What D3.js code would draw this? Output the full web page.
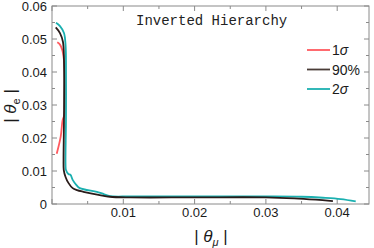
<!DOCTYPE html>
<html><head><meta charset="utf-8">
<script src="https://cdn.jsdelivr.net/npm/d3@7"></script>
<style>html,body{margin:0;padding:0;background:#fff;}svg{display:block;}</style>
</head><body>
<script>
const title = "Inverted Hierarchy";
const seriesNames = ["1\u03c3", "90%", "2\u03c3"];
const seriesColors = ["#ff5a5f", "#2a1c1a", "#1bb0b0"];
const xTicks = [0.01, 0.02, 0.03, 0.04];
const yTicks = [0, 0.01, 0.02, 0.03, 0.04, 0.05, 0.06];
const yTickLabels = ["0", "0.01", "0.02", "0.03", "0.04", "0.05", "0.06"];

// 1 sigma
const redX = [0.00074, 0.00112, 0.00144, 0.00168, 0.00182, 0.00185, 0.00175, 0.0015, 0.00122, 0.00066];
const redY = [0.0490, 0.0483, 0.0467, 0.0436, 0.0376, 0.0315, 0.0270, 0.0255, 0.0204, 0.0152];
// 90%
const blackX = [0.00052, 0.00112, 0.00154, 0.00168, 0.00168, 0.00162, 0.00165, 0.0019, 0.0023, 0.0029, 0.0035, 0.0044, 0.0067, 0.0081, 0.011, 0.02, 0.03, 0.034, 0.037, 0.0394];
const blackY = [0.0535, 0.0518, 0.0491, 0.0436, 0.0255, 0.0133, 0.0103, 0.0082, 0.0064, 0.0048, 0.0042, 0.0037, 0.0027, 0.0022, 0.0020, 0.0020, 0.0020, 0.0017, 0.0013, 0.0009];
// 2 sigma
const tealX = [0.00056, 0.00112, 0.00168, 0.0019, 0.00196, 0.00196, 0.0019, 0.00196, 0.0023, 0.0026, 0.0029, 0.0034, 0.0039, 0.0063, 0.0070, 0.0081, 0.011, 0.02, 0.03, 0.035, 0.038, 0.0405, 0.0426];
const tealY = [0.0549, 0.0539, 0.0518, 0.0482, 0.0436, 0.0255, 0.0118, 0.0103, 0.0091, 0.0088, 0.0073, 0.0058, 0.0048, 0.0037, 0.0032, 0.0024, 0.0023, 0.0023, 0.0023, 0.0022, 0.0019, 0.0015, 0.0008];

const W = 374, H = 248;
const m = {l: 52, t: 6, r: 5, b: 44};
const svg = d3.select("body").append("svg").attr("width", W).attr("height", H);
const x = d3.scaleLinear().domain([0, 0.04446]).range([m.l, W - m.r]);
const y = d3.scaleLinear().domain([0, 0.06]).range([H - m.b, m.t]);

const frameColor = "#8a8a8a";
const font = "Liberation Sans, Arial, sans-serif";

// minor ticks
const xMinor = d3.range(0, 0.0445, 0.005);
const yMinor = d3.range(0, 0.0601, 0.005);
const g = svg.append("g");
xMinor.forEach((v, i) => {
  const len = (Math.round(v / 0.005) % 2 === 0) ? 5 : 3;
  g.append("line").attr("x1", x(v)).attr("x2", x(v)).attr("y1", y(0)).attr("y2", y(0) - len).attr("stroke", frameColor);
  g.append("line").attr("x1", x(v)).attr("x2", x(v)).attr("y1", y(0.06)).attr("y2", y(0.06) + len).attr("stroke", frameColor);
});
yMinor.forEach((v) => {
  const len = (Math.round(v / 0.005) % 2 === 0) ? 5 : 3;
  g.append("line").attr("y1", y(v)).attr("y2", y(v)).attr("x1", x(0)).attr("x2", x(0) + len).attr("stroke", frameColor);
  g.append("line").attr("y1", y(v)).attr("y2", y(v)).attr("x1", x.range()[1]).attr("x2", x.range()[1] - len).attr("stroke", frameColor);
});
svg.append("rect").attr("x", m.l).attr("y", m.t).attr("width", W - m.r - m.l).attr("height", H - m.b - m.t)
  .attr("fill", "none").attr("stroke", frameColor);

// tick labels
svg.append("g").selectAll("text").data(xTicks).join("text")
  .attr("x", d => x(d)).attr("y", H - m.b + 13).attr("text-anchor", "middle")
  .attr("font-family", font).attr("font-size", 13).attr("fill", "#1a1a1a").text(d => d.toFixed(2));
svg.append("g").selectAll("text").data(yTicks).join("text")
  .attr("x", m.l - 5).attr("y", d => y(d) + 4.5).attr("text-anchor", "end")
  .attr("font-family", font).attr("font-size", 13).attr("fill", "#1a1a1a").text((d, i) => yTickLabels[i]);

// axis labels
const xl = svg.append("text").attr("x", 211).attr("y", 242).attr("text-anchor", "middle")
  .attr("font-family", font).attr("font-size", 17).attr("fill", "#1a1a1a");
xl.append("tspan").text("| ");
xl.append("tspan").attr("font-style", "italic").text("\u03b8");
xl.append("tspan").attr("font-size", 11).attr("font-style", "italic").attr("dy", 4).text("\u03bc");
xl.append("tspan").attr("dy", -4).text(" |");

const yl = svg.append("text").attr("transform", "translate(16,106) rotate(-90)").attr("text-anchor", "middle")
  .attr("font-family", font).attr("font-size", 17).attr("fill", "#1a1a1a");
yl.append("tspan").text("| ");
yl.append("tspan").attr("font-style", "italic").text("\u03b8");
yl.append("tspan").attr("font-size", 11).attr("dy", 4).text("e");
yl.append("tspan").attr("dy", -4).text(" |");

// title
svg.append("text").attr("x", 136).attr("y", 25).attr("font-family", "Liberation Mono, Courier New, monospace")
  .attr("font-size", 14).attr("fill", "#222").text(title);

// curves
const line = d3.line().x(d => x(d[0])).y(d => y(d[1])).curve(d3.curveCatmullRom.alpha(0.5));
const series = [
  {xs: redX, ys: redY, c: seriesColors[0]},
  {xs: tealX, ys: tealY, c: seriesColors[2]},
  {xs: blackX, ys: blackY, c: seriesColors[1]}
];
series.forEach(s => {
  svg.append("path").datum(s.xs.map((v, i) => [v, s.ys[i]]))
    .attr("d", line).attr("fill", "none").attr("stroke", s.c).attr("stroke-width", 1.8);
});

// legend
const lg = svg.append("g");
seriesNames.forEach((n, i) => {
  const yy = 50 + i * 19.5;
  lg.append("line").attr("x1", 307).attr("x2", 330).attr("y1", yy).attr("y2", yy)
    .attr("stroke", i === 1 ? "#4a3c38" : seriesColors[i]).attr("stroke-width", 1.8);
  const t = lg.append("text").attr("x", 332).attr("y", yy + 5).attr("font-family", font).attr("font-size", 14).attr("fill", "#1a1a1a");
  if (i === 1) t.text(n);
  else { t.append("tspan").text(n[0]); t.append("tspan").attr("font-style", "italic").text(n.slice(1)); }
});
</script>
</body></html>
